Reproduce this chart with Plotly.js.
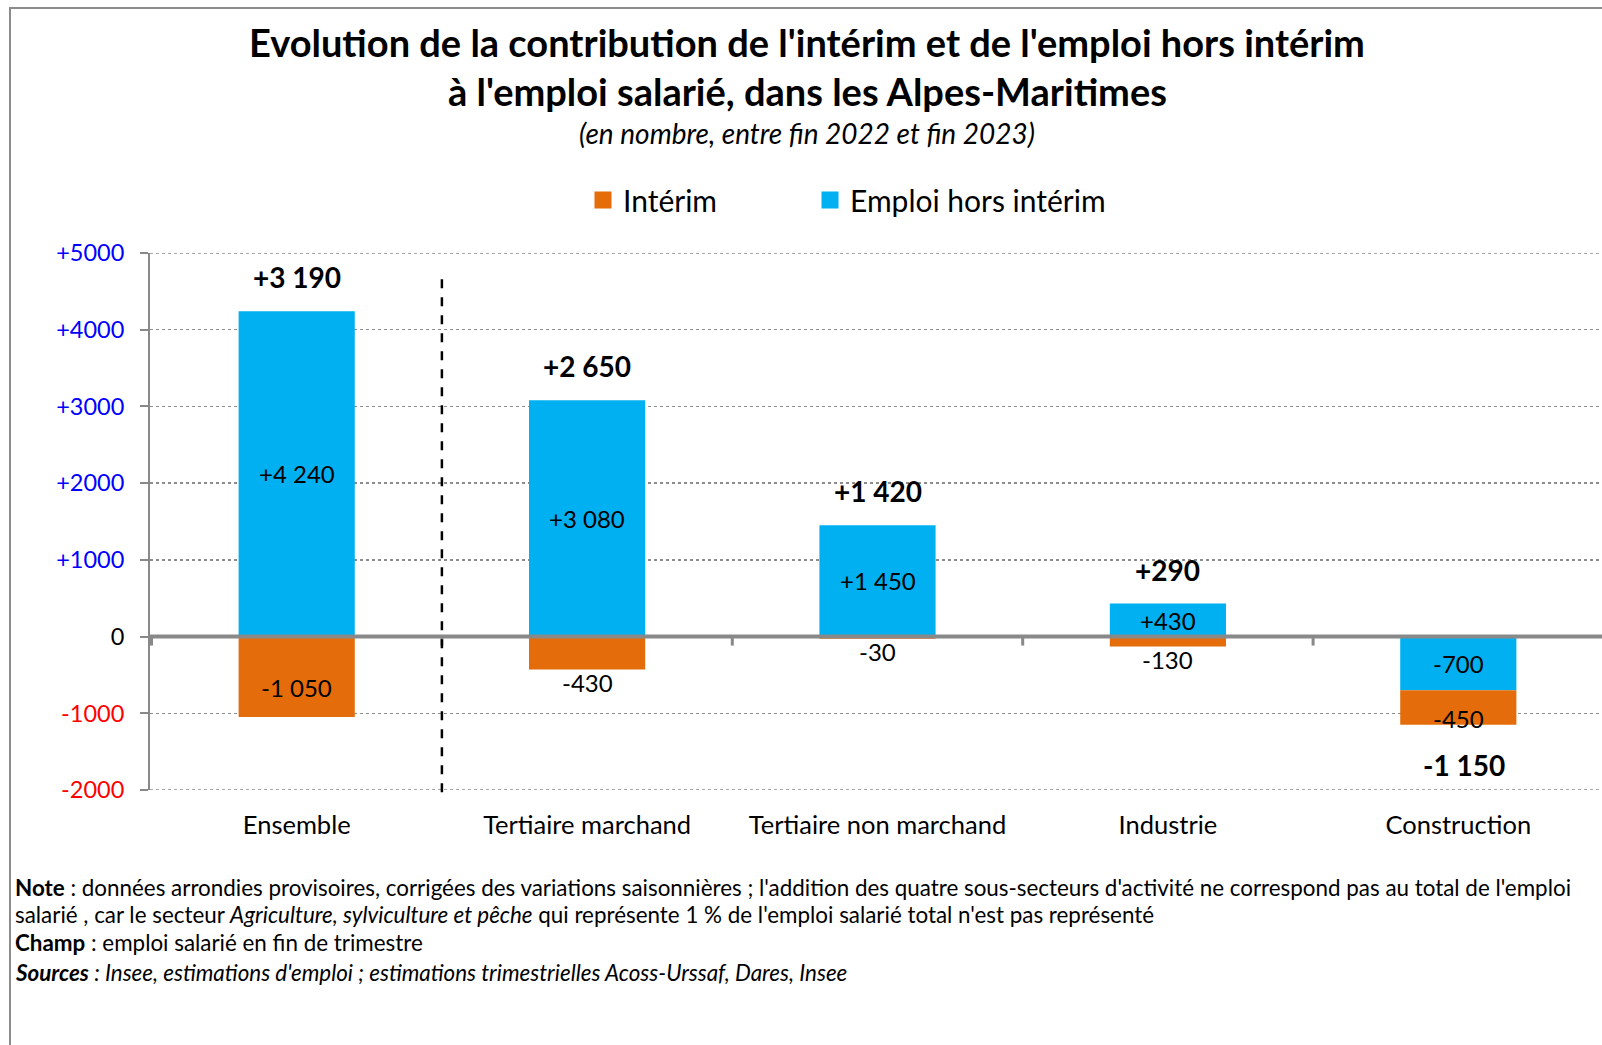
<!DOCTYPE html>
<html>
<head>
<meta charset="utf-8">
<script src="https://cdn.plot.ly/plotly-3.0.1.min.js"></script>
<style>
html,body{margin:0;padding:0;background:#fff;overflow:hidden;width:1602px;height:1045px;}
#frame{position:absolute;left:9px;top:7px;width:3000px;height:3000px;border-left:2px solid #8c8c8c;border-top:2px solid #8c8c8c;pointer-events:none;z-index:5;}
#chart{position:absolute;left:0;top:0;}
</style>
</head>
<body>
<div id="chart"></div>
<div id="frame"></div>
<script>
// ---- data ----
const categories = ['Ensemble', 'Tertiaire marchand', 'Tertiaire non marchand', 'Industrie', 'Construction'];
const interim = [-1050, -430, -30, -130, -450];
const emploiHorsInterim = [4240, 3080, 1450, 430, -700];
const totals = [3190, 2650, 1420, 290, -1150];
const yTickValues = [-2000, -1000, 0, 1000, 2000, 3000, 4000, 5000];
const yTickLabels = ['-2000', '-1000', '0', '+1000', '+2000', '+3000', '+4000', '+5000'];
const titleLines = [
  'Evolution de la contribution de l\'intérim et de l\'emploi hors intérim',
  'à l\'emploi salarié, dans les Alpes-Maritimes'
];
const subtitle = '(en nombre, entre fin 2022 et fin 2023)';

// ---- styles ----
const FONT = 'Lato, "Open Sans", sans-serif';
const ORANGE = '#E46C0A';
const BLUE = '#00B0F0';
const GRAY = '#898989';
const interimLabelPos = ['inside', 'outside', 'outside', 'outside', 'inside'];

const W = 1610, H = 1045, ML = 150, MR = 5, MT = 253, MB = 255;
const px2x = px => (px - ML) / (W - ML - MR);
const px2y = py => (H - MB - py) / (H - MT - MB);

function fmt(v) {
  const s = v > 0 ? '+' : (v < 0 ? '-' : '');
  return s + Math.abs(v).toString().replace(/\B(?=(\d{3})+(?!\d))/g, ' ');
}

const tickText = yTickValues.map((v, i) => {
  const c = v > 0 ? '#0000FF' : (v < 0 ? '#FF0000' : '#000000');
  return '<span style="color:' + c + '">' + yTickLabels[i] + '</span>';
});

const traces = [
  {
    type: 'bar', name: 'Emploi hors intérim', x: categories, y: emploiHorsInterim, legend: 'legend2',
    marker: {color: BLUE, line: {width: 0}}, hoverinfo: 'skip'
  },
  {
    type: 'bar', name: 'Intérim', x: categories, y: interim, legend: 'legend',
    marker: {color: ORANGE, line: {width: 0}}, hoverinfo: 'skip'
  }
];

const annotations = [];
categories.forEach((c, i) => {
  const h = emploiHorsInterim[i], it = interim[i];
  annotations.push({x: c, y: h / 2, xref: 'x', yref: 'y', text: fmt(h), showarrow: false,
    font: {family: FONT, size: 24, color: '#000'}, yanchor: 'middle'});
  const base = h < 0 ? h : 0;
  if (interimLabelPos[i] === 'inside') {
    annotations.push({x: c, y: base + it / 2, xref: 'x', yref: 'y', text: fmt(it), showarrow: false,
      font: {family: FONT, size: 24, color: '#000'}, yanchor: 'middle', yshift: -11});
  } else {
    annotations.push({x: c, y: base + it, xref: 'x', yref: 'y', text: fmt(it), showarrow: false,
      font: {family: FONT, size: 24, color: '#000'}, yanchor: 'top', yshift: 4});
  }
  const t = totals[i];
  if (t >= 0) {
    const top = Math.max(0, h) + Math.max(0, it);
    annotations.push({x: c, y: top, xref: 'x', yref: 'y', text: '<b>' + fmt(t) + '</b>', showarrow: false,
      font: {family: FONT, size: 28, color: '#000'}, yanchor: 'bottom', yshift: 15});
  } else {
    const bot = Math.min(0, h) + Math.min(0, it);
    annotations.push({x: c, y: bot, xref: 'x', yref: 'y', text: '<b>' + fmt(t) + '</b>', showarrow: false,
      font: {family: FONT, size: 28, color: '#000'}, yanchor: 'top', yshift: -21, xshift: 6});
  }
});

// title lines and subtitle
annotations.push({xref: 'paper', yref: 'paper', x: px2x(807), y: px2y(42), xanchor: 'center', yanchor: 'middle',
  text: '<b>' + titleLines[0] + '</b>', showarrow: false, font: {family: FONT, size: 38, color: '#000'}});
annotations.push({xref: 'paper', yref: 'paper', x: px2x(807), y: px2y(91), xanchor: 'center', yanchor: 'middle',
  text: '<b>' + titleLines[1] + '</b>', showarrow: false, font: {family: FONT, size: 38, color: '#000'}});
annotations.push({xref: 'paper', yref: 'paper', x: px2x(807), y: px2y(133), xanchor: 'center', yanchor: 'middle',
  text: '<i>' + subtitle + '</i>', showarrow: false, font: {family: FONT, size: 28, color: '#000'}});

// notes
const notes = [
  ['<b>Note</b> : données arrondies provisoires, corrigées des variations saisonnières ; l\'addition des quatre sous-secteurs d\'activité ne correspond pas au total de l\'emploi', 887],
  ['salarié , car le secteur <i>Agriculture, sylviculture et pêche</i> qui représente 1 % de l\'emploi salarié total n\'est pas représenté', 914],
  ['<b>Champ</b> : emploi salarié en fin de trimestre', 943],
  ['<b><i>Sources</i></b><i> : Insee, estimations d\'emploi ; estimations trimestrielles Acoss-Urssaf, Dares, Insee</i>', 972]
];
notes.forEach(n => {
  annotations.push({xref: 'paper', yref: 'paper', x: px2x(13), y: px2y(n[1]), xanchor: 'left', yanchor: 'middle',
    text: n[0], showarrow: false, align: 'left', font: {family: FONT, size: 22.4, color: '#000'}});
});

const shapes = [];
// dotted gridlines at the range edges (Plotly omits them)
[5000, -2000].forEach(v => {
  shapes.push({type: 'line', xref: 'paper', yref: 'y', x0: 0, x1: 1, y0: v, y1: v, layer: 'below',
    line: {color: '#8c8c8c', width: 1.5, dash: 'dot'}});
});
// zero line above bars
shapes.push({type: 'line', xref: 'paper', yref: 'y', x0: 0, x1: 1, y0: 0, y1: 0, layer: 'above',
  line: {color: GRAY, width: 4}});
// category boundary ticks on the zero line
for (let k = 0; k <= categories.length; k++) {
  shapes.push({type: 'line', xref: 'x', yref: 'y', ysizemode: 'pixel', yanchor: 0,
    x0: k - 0.5, x1: k - 0.5, y0: 0, y1: -9, layer: 'above', line: {color: GRAY, width: 3}});
}
// dashed separator
shapes.push({type: 'line', xref: 'x', yref: 'paper', x0: 0.5, x1: 0.5, y0: -0.004, y1: px2y(273), layer: 'above',
  line: {color: '#000', width: 2.5, dash: 'dash'}});

const legendBase = {
  orientation: 'h', yanchor: 'middle', xanchor: 'left', y: px2y(200),
  font: {family: FONT, size: 30, color: '#000'}, bgcolor: 'rgba(0,0,0,0)', borderwidth: 0
};

const layout = {
  width: W, height: H,
  margin: {l: ML, r: MR, t: MT, b: MB},
  paper_bgcolor: '#fff', plot_bgcolor: '#fff',
  barmode: 'relative', bargap: 0.6,
  showlegend: true,
  legend: Object.assign({}, legendBase, {x: px2x(583)}),
  legend2: Object.assign({}, legendBase, {x: px2x(810)}),
  xaxis: {
    type: 'category', showline: false, ticks: '', showgrid: false, zeroline: false,
    tickfont: {family: FONT, size: 25.5, color: '#000'}, ticklabelstandoff: 17
  },
  yaxis: {
    range: [-2000, 5000], tickvals: yTickValues, ticktext: tickText,
    showline: true, linecolor: GRAY, linewidth: 2,
    ticks: 'outside', ticklen: 8, tickwidth: 2, tickcolor: GRAY,
    showgrid: true, gridcolor: '#8c8c8c', gridwidth: 1.5, griddash: 'dot',
    zeroline: false,
    tickfont: {family: FONT, size: 23.5, color: '#000'}, ticklabelstandoff: 11
  },
  annotations: annotations,
  shapes: shapes,
  hovermode: false
};

Plotly.newPlot('chart', traces, layout, {staticPlot: true, displayModeBar: false}).then(gd => {
  // enlarge legend swatches to match the reference squares
  gd.querySelectorAll('g.legendpoints').forEach(g => {
    const old = g.getAttribute('transform') || '';
    g.setAttribute('transform', old + ' translate(20,0) scale(1.42) translate(-20,0)');
  });
});
</script>
</body>
</html>
